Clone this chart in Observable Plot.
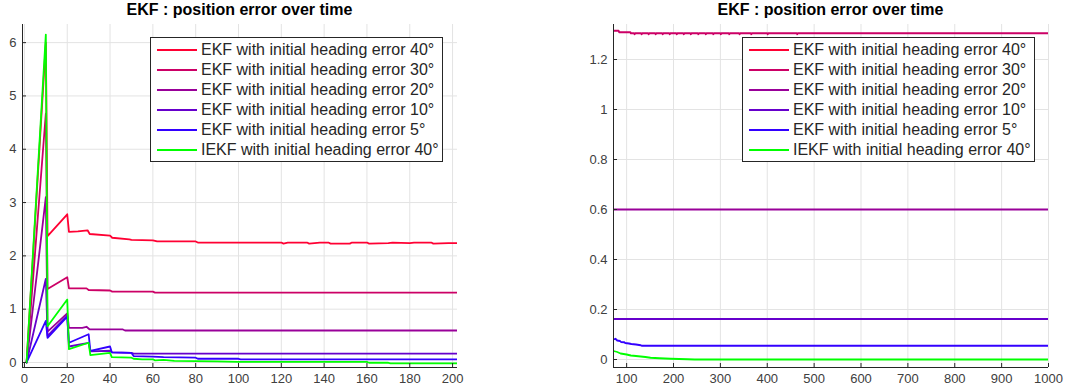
<!DOCTYPE html>
<html>
<head>
<meta charset="utf-8">
<script src="https://cdn.jsdelivr.net/npm/d3@7"></script>
<script src="https://cdn.jsdelivr.net/npm/@observablehq/plot@0.6"></script>
<style>
  html, body { margin: 0; padding: 0; background: #fff; }
  #wrap { position: relative; width: 1070px; height: 392px; font-family: "Liberation Sans", Arial, sans-serif; }
  .panel { position: absolute; top: 0; }
  .title { position: absolute; top: 2px; font-weight: bold; font-size: 16px; line-height: 16px; color: #000; text-align: center; white-space: nowrap; }
  .legend { position: absolute; top: 37px; width: 291px; height: 123px; border: 1px solid #262626; background: #fff; box-sizing: content-box; padding: 0; }
  .row { height: 20px; line-height: 20px; font-size: 16px; color: #262626; white-space: nowrap; display: flex; align-items: center; }
  .row:first-child { margin-top: 2px; }
  .swatch { display: inline-block; width: 40px; height: 2px; margin-left: 6px; margin-right: 4px; }
</style>
</head>
<body>
<div id="wrap"></div>
<script>
// ---------- data ----------
const titleText = "EKF : position error over time";
const seriesNames = [
  "EKF with initial heading error 40°",
  "EKF with initial heading error 30°",
  "EKF with initial heading error 20°",
  "EKF with initial heading error 10°",
  "EKF with initial heading error 5°",
  "IEKF with initial heading error 40°"
];
const seriesColors = ["#ff0033", "#cc0066", "#990099", "#6600cc", "#3300ff", "#00ff00"];

// left panel (t = 0..200)
const leftXTicks = [0, 20, 40, 60, 80, 100, 120, 140, 160, 180, 200];
const leftYTicks = [0, 1, 2, 3, 4, 5, 6];
const ekf40Left = [[1,0],[10,6.0],[10.8,2.37],[20,2.78],[20.8,2.45],[25,2.46],[29.5,2.48],[30.5,2.41],[40,2.38],[41,2.34],[49,2.31],[50,2.30],[60,2.29],[62,2.27],[80,2.27],[81,2.25],[120,2.25],[121,2.23],[123,2.25],[132,2.25],[133,2.23],[138,2.25],[142,2.25],[143,2.23],[152,2.23],[153,2.25],[160,2.25],[161,2.23],[170,2.24],[172,2.25],[180,2.24],[182,2.25],[190,2.25],[191,2.23],[198,2.24],[202,2.24]];
const ekf30Left = [[1,0],[10,4.67],[10.8,1.38],[20,1.60],[20.8,1.39],[29,1.39],[30,1.36],[40,1.35],[41,1.33],[60,1.33],[61,1.31],[202,1.31]];
const ekf20Left = [[1,0],[10,3.1],[10.8,0.58],[20,0.92],[20.8,0.65],[27,0.65],[29,0.67],[30.5,0.62],[46,0.62],[47,0.60],[202,0.60]];
const ekf10Left = [[1,0],[10,1.57],[10.8,0.50],[20,0.88],[20.8,0.30],[30,0.37],[30.8,0.21],[40,0.22],[41,0.19],[50,0.18],[51,0.165],[202,0.165]];
const ekf5Left = [[1,0],[10,0.78],[10.8,0.46],[20,0.86],[20.8,0.37],[30,0.53],[30.8,0.22],[40,0.30],[40.8,0.19],[50,0.18],[51,0.12],[60,0.11],[65,0.10],[80,0.09],[81,0.07],[100,0.07],[101,0.06],[202,0.06]];
const iekf40Left = [[1,0],[10,6.15],[10.8,0.68],[20,1.18],[20.8,0.25],[30,0.37],[30.8,0.14],[40,0.18],[40.8,0.10],[50,0.09],[51,0.07],[55,0.06],[60,0.06],[61,0.04],[65,0.05],[70,0.03],[90,0.02],[100,0.01],[160,0.01],[161,-0.005],[170,-0.005],[171,-0.015],[202,-0.015]];

// right panel (t = 72..1000)
const rightXTicks = [100, 200, 300, 400, 500, 600, 700, 800, 900, 1000];
const rightYTicks = [0, 0.2, 0.4, 0.6, 0.8, 1, 1.2];
const ekf40Right = [[72,2.25],[1000,2.24]];
const ekf30Right = [[72,1.315],[83,1.315],[84,1.309],[108,1.309],[109,1.305],[116,1.305],[117,1.301],[118,1.305],[131,1.305],[132,1.301],[133,1.305],[146,1.305],[147,1.301],[148,1.305],[161,1.305],[162,1.301],[163,1.305],[176,1.305],[177,1.301],[178,1.305],[191,1.305],[192,1.301],[193,1.305],[206,1.305],[207,1.301],[208,1.305],[221,1.305],[222,1.301],[223,1.305],[236,1.305],[237,1.301],[238,1.305],[252,1.305],[253,1.301],[254,1.305],[268,1.305],[269,1.301],[270,1.305],[284,1.305],[285,1.301],[286,1.305],[300,1.305],[301,1.301],[302,1.305],[318,1.305],[319,1.301],[320,1.305],[340,1.305],[341,1.301],[342,1.305],[365,1.305],[366,1.301],[367,1.305],[400,1.305],[401,1.301],[402,1.305],[463,1.305],[464,1.301],[465,1.305],[1000,1.305]];
const ekf20Right = [[72,0.600],[1000,0.600]];
const ekf10Right = [[72,0.162],[1000,0.162]];
const ekf5Right = [[72,0.080],[76,0.083],[80,0.076],[86,0.074],[88,0.070],[95,0.069],[97,0.066],[105,0.064],[110,0.062],[120,0.060],[130,0.057],[132,0.055],[1000,0.055]];
const iekf40Right = [[72,0.034],[80,0.030],[87,0.024],[100,0.020],[109,0.016],[120,0.014],[130,0.012],[140,0.010],[151,0.007],[170,0.005],[194,0.003],[230,0.001],[245,0.0],[1000,0.0]];

// ---------- build ----------
const leftSeries = [ekf40Left, ekf30Left, ekf20Left, ekf10Left, ekf5Left, iekf40Left];
const rightSeries = [ekf40Right, ekf30Right, ekf20Right, ekf10Right, ekf5Right, iekf40Right];

const axisColor = "#262626";
const gridColor = "#e3e3e3";
const PW = 535, PH = 392;

function panel({series, xDomain, yDomain, xTicks, yTicks, margins}) {
  const fw = PW - margins.left - margins.right;
  const fh = PH - margins.top - margins.bottom;
  const marks = [
    Plot.gridX(xTicks, {stroke: gridColor, strokeOpacity: 1}),
    Plot.gridY(yTicks, {stroke: gridColor, strokeOpacity: 1}),
    Plot.axisX(xTicks, {tickSize: 0, tickPadding: 6, tickFormat: d => String(d), fill: "#404040"}),
    Plot.axisY(yTicks, {tickSize: 0, tickPadding: 6, tickFormat: d => String(d), fill: "#404040"}),
    ...series.map((s, i) => Plot.line(s, {x: d => d[0], y: d => d[1], stroke: seriesColors[i], strokeWidth: 1.8, clip: true})),
    Plot.tickX(xTicks, {x: d => d, stroke: axisColor, insetTop: fh - 4}),
    Plot.tickY(yTicks, {y: d => d, stroke: axisColor, insetRight: fw - 4}),
    Plot.ruleX([xDomain[0]], {stroke: axisColor, strokeWidth: 1}),
    Plot.ruleY([yDomain[0]], {stroke: axisColor, strokeWidth: 1})
  ];
  return Plot.plot({
    width: PW, height: PH,
    marginLeft: margins.left, marginRight: margins.right, marginTop: margins.top, marginBottom: margins.bottom,
    x: {domain: xDomain},
    y: {domain: yDomain},
    style: {fontFamily: "'Liberation Sans', Arial, sans-serif", fontSize: "13px", background: "transparent"},
    marks
  });
}

const wrap = document.getElementById("wrap");

function addPanel(left, opts, legendLeft) {
  const div = document.createElement("div");
  div.className = "panel";
  div.style.left = left + "px";
  div.appendChild(panel(opts));
  wrap.appendChild(div);
  const t = document.createElement("div");
  t.className = "title";
  const fx0 = left + opts.margins.left, fx1 = left + PW - opts.margins.right;
  t.style.left = fx0 + "px";
  t.style.width = (fx1 - fx0) + "px";
  t.textContent = titleText;
  wrap.appendChild(t);
  const lg = document.createElement("div");
  lg.className = "legend";
  lg.style.left = legendLeft + "px";
  seriesNames.forEach((name, i) => {
    const r = document.createElement("div");
    r.className = "row";
    const sw = document.createElement("span");
    sw.className = "swatch";
    sw.style.background = seriesColors[i];
    const tx = document.createElement("span");
    tx.textContent = name;
    r.appendChild(sw); r.appendChild(tx);
    lg.appendChild(r);
  });
  wrap.appendChild(lg);
}

addPanel(0, {
  series: leftSeries, xDomain: [-0.9, 202.3], yDomain: [-0.094, 6.34],
  xTicks: leftXTicks, yTicks: leftYTicks,
  margins: {left: 22, right: 78, top: 24, bottom: 25}
}, 150);

addPanel(535, {
  series: rightSeries, xDomain: [72, 1000], yDomain: [-0.032, 1.34],
  xTicks: rightXTicks, yTicks: rightYTicks,
  margins: {left: 78, right: 22, top: 24, bottom: 25}
}, 742);
</script>
</body>
</html>
